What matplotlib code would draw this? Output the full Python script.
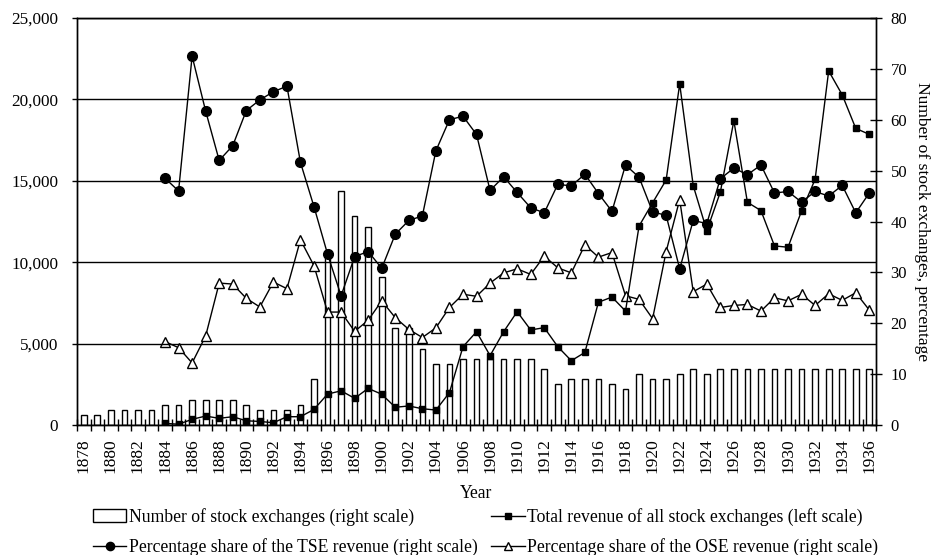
import matplotlib
matplotlib.use("Agg")
import matplotlib.pyplot as plt
import numpy as np

plt.rcParams['font.family'] = ['Liberation Serif', 'DejaVu Serif']
plt.rcParams['font.size'] = 12

# data
years = np.arange(1878, 1937)

n_exchanges = [2, 2, 3, 3, 3, 3, 4, 4, 5, 5, 5, 5, 4, 3, 3, 3, 4, 9,   # 1878-1895
               33, 46, 41, 39, 29, 19, 19, 15, 12, 12,                 # 1896-1905
               13, 13, 13, 13, 13, 13, 11, 8, 9, 9, 9, 8, 7,           # 1906-1918
               10, 9, 9, 10, 11, 10,                                   # 1919-1924
               11, 11, 11, 11, 11, 11, 11, 11, 11, 11, 11, 11]         # 1925-1936

rev_years = np.arange(1884, 1937)
total_revenue = [100, 50, 350, 550, 410, 510, 260, 220, 140, 510, 510, 960,          # 1884-1895
                 1900, 2100, 1640, 2250, 1890, 1090, 1170, 1000, 920, 1990,          # 1896-1905
                 4810, 5730, 4260, 5730, 6960, 5840, 5980, 4810, 3950, 4460,         # 1906-1915
                 7540, 7860, 7000, 12220, 13650, 15050, 20950, 14700, 11940, 14300,  # 1916-1925
                 18690, 13680, 13170, 11000, 10920, 13150, 15090, 21750, 20280,      # 1926-1934
                 18220, 17850]                                                       # 1935-1936

tse_share = [48.5, 46.0, 72.5, 61.7, 52.0, 54.9, 61.8, 63.9, 65.5, 66.6, 51.6, 42.9,  # 1884-1895
             33.6, 25.4, 33.1, 34.1, 30.8, 37.5, 40.2, 41.1, 53.9, 60.0,              # 1896-1905
             60.7, 57.1, 46.1, 48.8, 45.7, 42.7, 41.7, 47.3, 47.0, 49.3,              # 1906-1915
             45.5, 42.0, 51.1, 48.7, 41.9, 41.2, 30.7, 40.2, 39.6, 48.4,              # 1916-1925
             50.5, 49.2, 51.1, 45.6, 45.9, 43.8, 45.9, 45.0, 47.1, 41.7, 45.6]        # 1926-1936

ose_share = [16.4, 15.2, 12.2, 17.5, 27.9, 27.7, 24.9, 23.2, 28.1, 26.8, 36.4, 31.3,  # 1884-1895
             22.2, 22.2, 18.4, 20.6, 24.4, 21.1, 18.8, 17.2, 19.1, 23.1,              # 1896-1905
             25.7, 25.3, 27.9, 29.9, 30.7, 29.6, 33.2, 30.9, 29.9, 35.4,              # 1906-1915
             33.0, 33.9, 25.4, 24.7, 20.9, 34.1, 44.3, 26.2, 27.7, 23.1,              # 1916-1925
             23.5, 23.7, 22.4, 25.0, 24.4, 25.7, 23.5, 25.8, 24.5, 26.0, 22.6]        # 1926-1936

fig = plt.figure(figsize=(9.31, 5.55), dpi=100)
ax = fig.add_axes([0.0827, 0.2342, 0.8583, 0.7334])
ax2 = ax.twinx()

# left axis on top so the revenue line sits over the bars
ax.set_zorder(ax2.get_zorder() + 1)
ax.patch.set_visible(False)

bars = ax2.bar(years, n_exchanges, width=0.42, facecolor='white',
               edgecolor='black', linewidth=1, zorder=1,
               label='Number of stock exchanges (right scale)')
tse, = ax2.plot(rev_years, tse_share, color='black', lw=1, marker='o',
                markersize=7, zorder=3,
                label='Percentage share of the TSE revenue (right scale)')
ose, = ax2.plot(rev_years, ose_share, color='black', lw=1, marker='^',
                markersize=7.5, markerfacecolor='white', markeredgewidth=1,
                zorder=3, label='Percentage share of the OSE revenue (right scale)')
rev, = ax.plot(rev_years, total_revenue, color='black', lw=1, marker='s',
               markersize=5, zorder=4,
               label='Total revenue of all stock exchanges (left scale)')

ax.set_xlim(1877.5, 1936.5)
ax.set_ylim(0, 25000)
ax2.set_ylim(0, 80)

ax.set_yticks(np.arange(0, 25001, 5000))
ax.set_yticklabels([f"{v:,}" for v in range(0, 25001, 5000)])
ax.yaxis.grid(True, color='black', lw=1)
ax.set_axisbelow(False)
ax.tick_params(axis='y', direction='out', length=3.6, width=1, labelsize=12.3, pad=10)

ax2.set_yticks(np.arange(0, 81, 10))
ax2.tick_params(axis='y', direction='inout', length=9, width=1, labelsize=12, pad=6)

ax.set_xticks(np.arange(1878, 1937, 2))
ax.set_xticklabels([str(y) for y in range(1878, 1937, 2)], rotation=90)
ax.set_xticks(np.arange(1877.5, 1937, 1), minor=True)
ax.tick_params(axis='x', which='major', length=0, pad=9.4, labelsize=12.5)
ax.tick_params(axis='x', which='minor', direction='inout', length=8, width=1)

for a in (ax, ax2):
    for s in a.spines.values():
        s.set_linewidth(1)

ax.set_xlabel('Year', fontsize=12.7, labelpad=8.5)
ax2.set_ylabel('Number of stock exchanges, percentage', rotation=270,
               fontsize=12.6, labelpad=16)

fig.legend([bars, tse, rev, ose],
           [bars.get_label(), tse.get_label(), rev.get_label(), ose.get_label()],
           loc='center', bbox_to_anchor=(0.5215, 0.0414), ncol=2, frameon=False,
           fontsize=12.7, handlelength=1.9, handletextpad=0.15, columnspacing=0.75,
           labelspacing=0.7, borderpad=0, markerscale=0.85)

fig.savefig('out.png', dpi=100)
